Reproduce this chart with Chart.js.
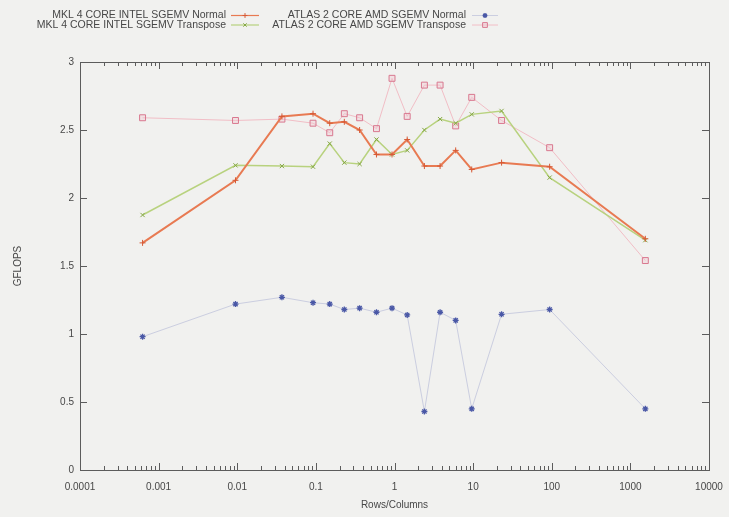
<!DOCTYPE html>
<html><head><meta charset="utf-8">
<script src="https://cdn.jsdelivr.net/npm/chart.js@4.4.0/dist/chart.umd.min.js"></script>
<style>html,body{margin:0;padding:0;background:#f1f1ef;}canvas{display:block;}</style>
</head><body>
<canvas id="c" width="729" height="517"></canvas>
<script>
// ---- data ----
const sizes = [0.000625, 0.0095, 0.037, 0.092, 0.15, 0.23, 0.36, 0.59, 0.93, 1.45, 2.4, 3.8, 6.0, 9.6, 23, 94, 1550];
const mklNormal      = [1.67, 2.13, 2.60, 2.62, 2.55, 2.56, 2.50, 2.32, 2.32, 2.43, 2.235, 2.235, 2.35, 2.21, 2.26, 2.23, 1.70];
const mklTranspose   = [1.875, 2.24, 2.235, 2.23, 2.40, 2.26, 2.25, 2.43, 2.32, 2.35, 2.50, 2.58, 2.55, 2.615, 2.64, 2.15, 1.69];
const atlasNormal    = [0.98, 1.22, 1.27, 1.23, 1.22, 1.18, 1.19, 1.16, 1.19, 1.14, 0.43, 1.16, 1.10, 0.45, 1.145, 1.18, 0.45];
const atlasTranspose = [2.59, 2.57, 2.58, 2.55, 2.48, 2.62, 2.59, 2.51, 2.88, 2.60, 2.83, 2.83, 2.53, 2.74, 2.57, 2.37, 1.54];
const seriesNames = ['MKL 4 CORE INTEL SGEMV Normal', 'MKL 4 CORE INTEL SGEMV Transpose', 'ATLAS 2 CORE AMD SGEMV Normal', 'ATLAS 2 CORE AMD SGEMV Transpose'];
const xTickValues = [0.0001, 0.001, 0.01, 0.1, 1, 10, 100, 1000, 10000];
const xTickLabels = ['0.0001', '0.001', '0.01', '0.1', '1', '10', '100', '1000', '10000'];
const yTickValues = [0, 0.5, 1, 1.5, 2, 2.5, 3];
const yTickLabels = ['0', '0.5', '1', '1.5', '2', '2.5', '3'];
const xTitle = 'Rows/Columns';
const yTitle = 'GFLOPS';

const pts = arr => arr.map((v, i) => ({x: sizes[i], y: v}));
const FONT = "'Liberation Sans', Arial, sans-serif";
const TXT = '#474747';

const bgPlugin = {
  id: 'bg',
  beforeDraw(chart) {
    const ctx = chart.ctx;
    ctx.save(); ctx.fillStyle = '#f1f1ef'; ctx.fillRect(0, 0, chart.width, chart.height); ctx.restore();
  }
};

const framePlugin = {
  id: 'frame',
  beforeDatasetsDraw(chart) {
    const {ctx, chartArea: a, scales: {x, y}} = chart;
    ctx.save();
    ctx.strokeStyle = '#5c5c5c'; ctx.lineWidth = 1;
    ctx.strokeRect(Math.round(a.left) + 0.5, Math.round(a.top) + 0.5, Math.round(a.right - a.left), Math.round(a.bottom - a.top));
    ctx.beginPath();
    for (let e = -4; e <= 4; e++) {
      for (let m = 1; m <= 9; m++) {
        const v = m * Math.pow(10, e);
        if (v > 10000) break;
        const px = Math.round(x.getPixelForValue(v)) + 0.5;
        const L = m === 1 ? 7 : 4;
        ctx.moveTo(px, a.bottom); ctx.lineTo(px, a.bottom - L);
        ctx.moveTo(px, a.top); ctx.lineTo(px, a.top + L);
      }
    }
    yTickValues.forEach(v => {
      const py = Math.round(y.getPixelForValue(v)) + 0.5;
      ctx.moveTo(a.left, py); ctx.lineTo(a.left + 7, py);
      ctx.moveTo(a.right, py); ctx.lineTo(a.right - 7, py);
    });
    ctx.stroke();
    ctx.restore();
  }
};

const legendSlots = [
  {right: 226, y: 15.5, x1: 231, x2: 259},
  {right: 226, y: 25,   x1: 231, x2: 259},
  {right: 466, y: 15.5, x1: 472, x2: 498},
  {right: 466, y: 25,   x1: 472, x2: 498}
];
const legendPlugin = {
  id: 'gpLegend',
  afterDraw(chart) {
    const ctx = chart.ctx;
    ctx.save();
    ctx.font = "10.5px " + FONT;
    ctx.textAlign = 'right'; ctx.textBaseline = 'middle';
    chart.data.datasets.forEach((ds, i) => {
      const s = legendSlots[i];
      ctx.fillStyle = TXT;
      ctx.fillText(ds.label, s.right, s.y);
      ctx.strokeStyle = ds.borderColor; ctx.lineWidth = Math.min(ds.borderWidth, 1.2);
      ctx.beginPath(); ctx.moveTo(s.x1, s.y); ctx.lineTo(s.x2, s.y); ctx.stroke();
      ctx.strokeStyle = ds.pointBorderColor; ctx.fillStyle = ds.pointBackgroundColor;
      ctx.lineWidth = ds.pointBorderWidth;
      Chart.helpers.drawPoint(ctx, {pointStyle: ds.pointStyle, radius: ds.pointRadius * 0.8, rotation: 0, borderWidth: ds.pointBorderWidth}, (s.x1 + s.x2) / 2, s.y);
    });
    ctx.restore();
  }
};

new Chart(document.getElementById('c'), {
  type: 'line',
  data: {
    datasets: [
      {label: seriesNames[0], data: pts(mklNormal), borderColor: '#e87a52', borderWidth: 2,
       pointStyle: 'cross', pointRadius: 3, pointBorderColor: '#d65a36', pointBackgroundColor: '#d65a36', pointBorderWidth: 1},
      {label: seriesNames[1], data: pts(mklTranspose), borderColor: '#b8d27e', borderWidth: 1.5,
       pointStyle: 'crossRot', pointRadius: 3, pointBorderColor: '#86a846', pointBackgroundColor: '#86a846', pointBorderWidth: 1},
      {label: seriesNames[2], data: pts(atlasNormal), borderColor: '#cbcee0', borderWidth: 1,
       pointStyle: 'star', pointRadius: 3, pointBorderColor: '#4a58a6', pointBackgroundColor: '#4a58a6', pointBorderWidth: 1.3},
      {label: seriesNames[3], data: pts(atlasTranspose), borderColor: '#f2bec6', borderWidth: 1,
       pointStyle: 'rect', pointRadius: 4.2, pointBorderColor: '#d9788f', pointBackgroundColor: 'rgba(240,196,206,0.35)', pointBorderWidth: 1}
    ]
  },
  options: {
    responsive: false,
    animation: false,
    devicePixelRatio: 1,
    layout: {padding: {top: 62, right: 20, left: 0, bottom: 0}},
    plugins: {legend: {display: false}, tooltip: {enabled: false}},
    elements: {line: {tension: 0}},
    scales: {
      x: {
        type: 'logarithmic', min: 0.0001, max: 10000,
        grid: {display: false, drawTicks: false}, border: {display: false},
        afterBuildTicks: s => { s.ticks = xTickValues.map(v => ({value: v})); },
        afterFit: s => { s.height = 47; s.paddingRight = 0; s.paddingLeft = 0; },
        ticks: {autoSkip: false, maxRotation: 0, padding: 11, color: TXT, font: {family: FONT, size: 10},
                callback: (v, i) => xTickLabels[i]},
        title: {display: true, text: xTitle, color: TXT, font: {family: FONT, size: 10}, padding: {top: 0, bottom: 6}}
      },
      y: {
        min: 0, max: 3,
        grid: {display: false, drawTicks: false}, border: {display: false},
        afterBuildTicks: s => { s.ticks = yTickValues.map(v => ({value: v})); },
        afterFit: s => { s.width = 80; s.paddingTop = 0; s.paddingBottom = 0; },
        ticks: {padding: 6, color: TXT, font: {family: FONT, size: 10}, callback: (v, i) => yTickLabels[i]},
        title: {display: true, text: yTitle, color: TXT, font: {family: FONT, size: 10}, padding: {top: 12, bottom: 0}}
      }
    }
  },
  plugins: [bgPlugin, framePlugin, legendPlugin]
});
</script>
</body></html>
